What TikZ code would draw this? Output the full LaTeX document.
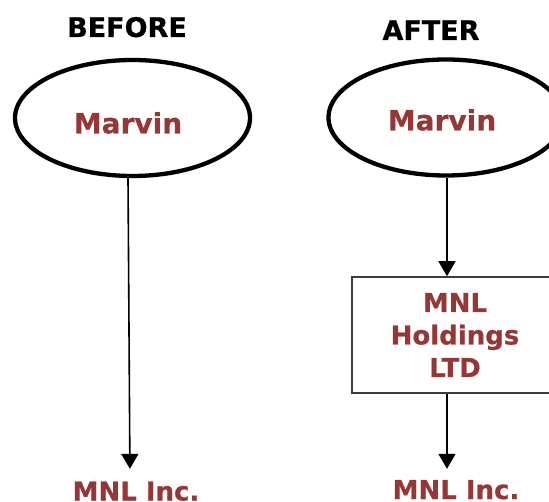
\documentclass[tikz,border=0pt]{standalone}
\usepackage{fontspec}
\setmainfont{DejaVu Sans}[BoldFeatures={FakeBold=0.6}]
\usetikzlibrary{shapes.geometric,arrows.meta}
\definecolor{entity}{RGB}{149,55,53}
\definecolor{boxline}{RGB}{60,60,60}
\begin{document}
\begin{tikzpicture}[x=1pt,y=-1pt,
  heading/.style={font=\bfseries\fontsize{27}{32}\selectfont, text=black, inner sep=0pt, anchor=base},
  owner/.style={draw, line width=4.3pt, ellipse, minimum width=235pt, minimum height=116pt, inner sep=0pt},
  ownername/.style={font=\bfseries\fontsize{28}{32}\selectfont, text=entity, inner sep=0pt},
  company/.style={font=\bfseries\fontsize{26}{32.5}\selectfont, text=entity, inner sep=0pt, anchor=base},
  holding/.style={draw=boxline, line width=1.6pt, rectangle, minimum width=206pt, minimum height=116pt,
    align=center, font=\bfseries\fontsize{26}{32.5}\selectfont, text=entity, inner sep=0pt},
  link/.style={line width=1.6pt, -{Triangle[width=17pt,length=15pt]}}]
\useasboundingbox (0,0) rectangle (549,502);
\clip (0,0) rectangle (549,502);

% column headings
\node[heading] (before) at (127,37) {BEFORE};
\node[heading] (after)  at (431,40) {AFTER};

% ownership before the restructuring
\node[owner] (ownerL) at (132.5,118) {};
\node[ownername] (nameL) at (128,123) {Marvin};
\node[company] (incL) at (136,500.5) {MNL Inc.};
\draw[link, shorten >=12.5pt] ([xshift=-4.5pt]ownerL.south) -- ([xshift=-6pt]incL.north);

% ownership after the restructuring
\node[owner] (ownerR) at (446,117.5) {};
\node[ownername] (nameR) at (442,120) {Marvin};
\node[holding] (hold) at (455,335) {MNL\\Holdings\\LTD};
\node[company] (incR) at (456,499) {MNL Inc.};
\draw[link] ([xshift=1pt]ownerR.south) -- ([xshift=1pt]ownerR.south |- hold.north);
\draw[link, shorten >=11pt] ([xshift=1pt]ownerR.south |- hold.south) -- ([xshift=1pt]ownerR.south |- incR.north);
\end{tikzpicture}
\end{document}
